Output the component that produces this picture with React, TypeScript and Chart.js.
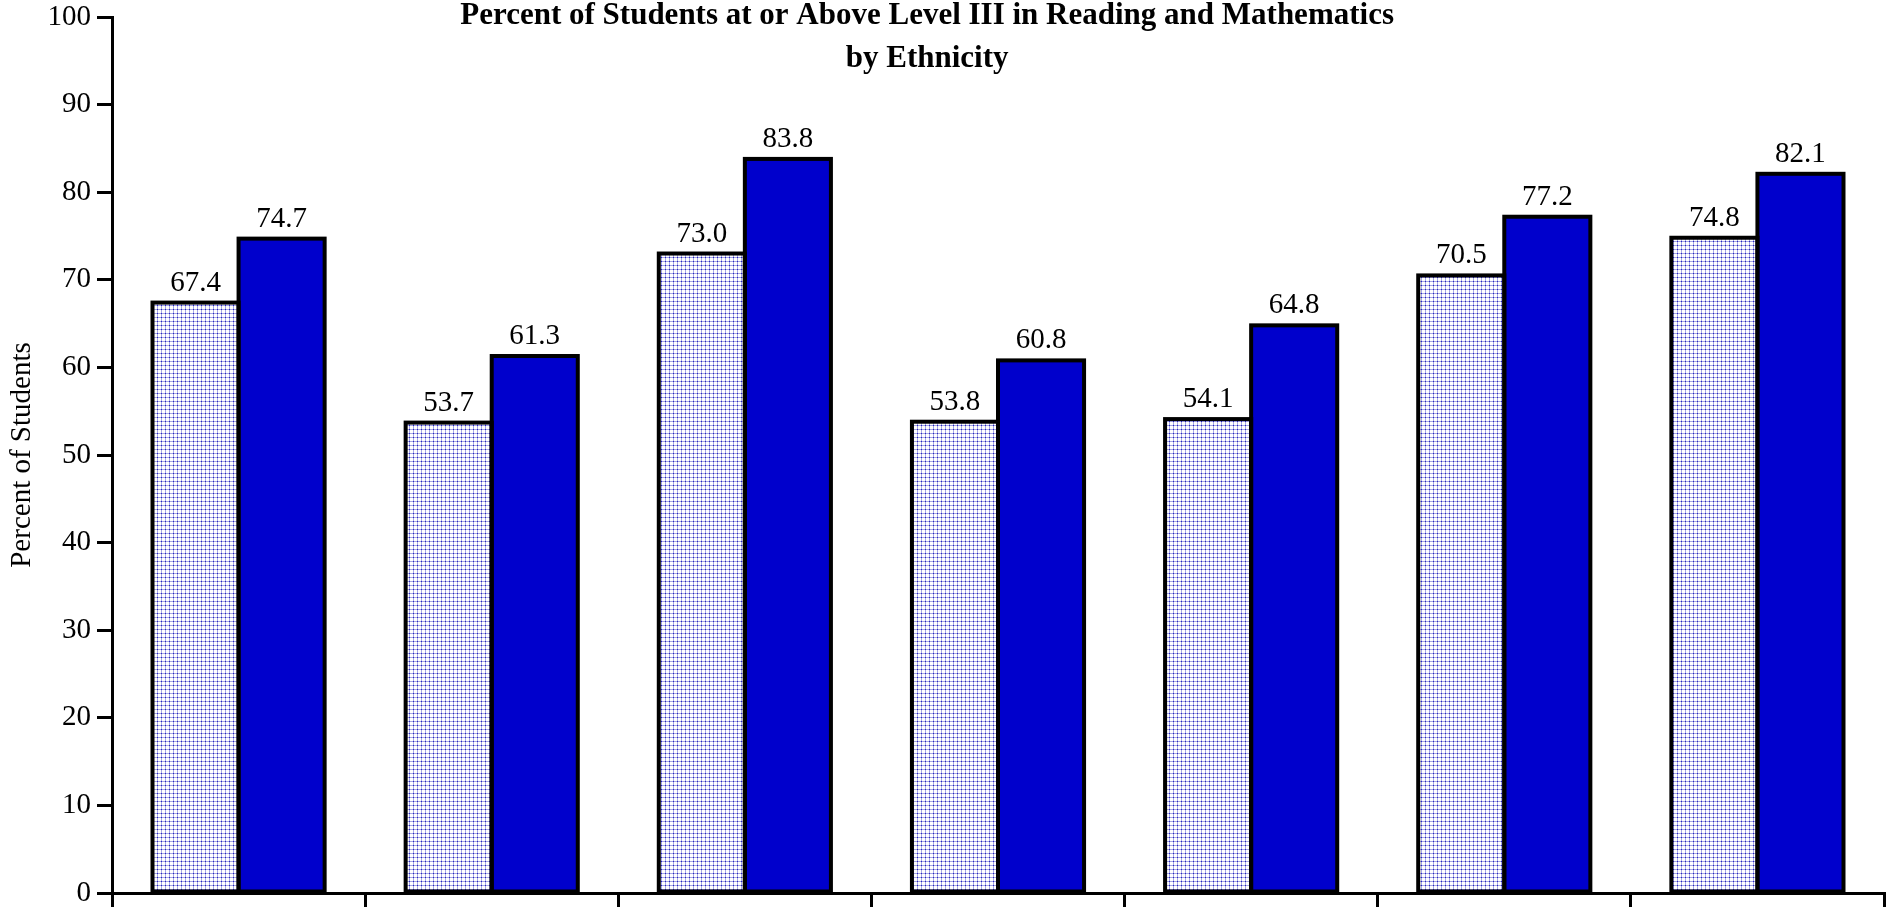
import { useEffect, useRef } from "react";
import { Chart, registerables } from "chart.js";

Chart.register(...registerables);

// Ethnic groups along the x axis (their labels sit below the visible area)
const categories = [
  "All Students",
  "African American",
  "Asian",
  "Hispanic",
  "American Indian",
  "White",
  "Multiracial",
];

// Percent of students at or above Level III
const readingValues = [67.4, 53.7, 73.0, 53.8, 54.1, 70.5, 74.8];
const mathValues = [74.7, 61.3, 83.8, 60.8, 64.8, 77.2, 82.1];

const yMin = 0;
const yMax = 100;
const yStep = 10;

const titleLines = [
  "Percent of Students at or Above Level III in Reading and Mathematics",
  "by Ethnicity",
];
const yAxisTitle = "Percent of Students";

const SERIF = "'Liberation Serif', 'Times New Roman', serif";
const SOLID_BLUE = "#0000cc";
const TEXT_SIZE = 29;
const HEADING_SIZE = 31;

// Small blue dot-grid tile used as the fill of the reading bars
function makeDotPattern(ctx: CanvasRenderingContext2D): CanvasPattern | string {
  const tile = document.createElement("canvas");
  tile.width = 4;
  tile.height = 4;
  const t = tile.getContext("2d");
  if (!t) return "#9999dd";
  t.fillStyle = "#ffffff";
  t.fillRect(0, 0, 4, 4);
  t.fillStyle = "#a4a4e4";
  t.fillRect(0, 1, 4, 1);
  t.fillRect(1, 0, 1, 4);
  t.fillStyle = "#2626bc";
  t.fillRect(1, 1, 1, 1);
  return ctx.createPattern(tile, "repeat") || "#9999dd";
}

// Black outlines centred on the bar edges, so neighbouring bars share one line
const barOutline = {
  id: "barOutline",
  afterDatasetsDraw(chart: any) {
    const ctx: CanvasRenderingContext2D = chart.ctx;
    ctx.save();
    ctx.strokeStyle = "#000000";
    ctx.lineWidth = 4;
    ctx.lineJoin = "miter";
    chart.data.datasets.forEach((_ds: any, i: number) => {
      chart.getDatasetMeta(i).data.forEach((bar: any) => {
        const { x, y, base, width } = bar.getProps(["x", "y", "base", "width"], true);
        ctx.strokeRect(x - width / 2, y, width, base - y);
      });
    });
    ctx.restore();
  },
};

// Value printed above every bar
const valueLabels = {
  id: "valueLabels",
  afterDatasetsDraw(chart: any) {
    const ctx: CanvasRenderingContext2D = chart.ctx;
    ctx.save();
    ctx.fillStyle = "#000000";
    ctx.font = `${TEXT_SIZE}px ${SERIF}`;
    ctx.textAlign = "center";
    ctx.textBaseline = "alphabetic";
    chart.data.datasets.forEach((ds: any, i: number) => {
      chart.getDatasetMeta(i).data.forEach((bar: any, j: number) => {
        const { x, y } = bar.getProps(["x", "y"], true);
        ctx.fillText(Number(ds.data[j]).toFixed(1), x, y - 12);
      });
    });
    ctx.restore();
  },
};

// Two-line bold heading drawn over the top of the plot area
const chartHeading = {
  id: "chartHeading",
  afterDraw(chart: any) {
    const ctx: CanvasRenderingContext2D = chart.ctx;
    const area = chart.chartArea;
    const cx = area.left + (area.right - area.left) * 0.46;
    ctx.save();
    ctx.fillStyle = "#000000";
    ctx.font = `bold ${HEADING_SIZE}px ${SERIF}`;
    ctx.textAlign = "center";
    ctx.textBaseline = "alphabetic";
    ctx.fillText(titleLines[0], cx, 24);
    ctx.fillText(titleLines[1], cx, 67);
    ctx.restore();
  },
};

export default function App() {
  const canvasRef = useRef<HTMLCanvasElement | null>(null);

  useEffect(() => {
    const canvas = canvasRef.current;
    if (!canvas) return;
    const ctx = canvas.getContext("2d");
    if (!ctx) return;
    const dots = makeDotPattern(ctx);

    const chart = new Chart(ctx, {
      type: "bar",
      data: {
        labels: categories,
        datasets: [
          {
            label: "Reading",
            data: readingValues,
            backgroundColor: dots as any,
            borderWidth: 0,
            categoryPercentage: 0.68,
            barPercentage: 1,
          },
          {
            label: "Mathematics",
            data: mathValues,
            backgroundColor: SOLID_BLUE,
            borderWidth: 0,
            categoryPercentage: 0.68,
            barPercentage: 1,
          },
        ],
      },
      options: {
        responsive: false,
        animation: false,
        events: [],
        layout: { padding: { top: 17, right: 7, bottom: 0, left: 0 } },
        plugins: {
          legend: { display: false },
          title: { display: false },
          tooltip: { enabled: false },
        },
        scales: {
          x: {
            type: "category",
            offset: true,
            ticks: { display: false },
            grid: {
              display: true,
              offset: true,
              drawOnChartArea: false,
              drawTicks: true,
              tickLength: 20,
              color: "#000000",
              lineWidth: 3,
            },
            border: { display: true, color: "#000000", width: 3 },
            afterFit(scale: any) {
              scale.height = 14;
              scale.paddingLeft = 0;
              scale.paddingRight = 0;
            },
          },
          y: {
            min: yMin,
            max: yMax,
            ticks: {
              stepSize: yStep,
              color: "#000000",
              padding: 6,
              font: { family: SERIF, size: TEXT_SIZE },
            },
            grid: {
              display: true,
              drawOnChartArea: false,
              drawTicks: true,
              tickLength: 15,
              color: "#000000",
              lineWidth: 3,
            },
            border: { display: true, color: "#000000", width: 3 },
            title: {
              display: true,
              text: yAxisTitle,
              color: "#000000",
              font: { family: SERIF, size: TEXT_SIZE },
              padding: { top: 5, bottom: 0 },
            },
            afterFit(scale: any) {
              scale.width = 112;
              scale.paddingTop = 0;
              scale.paddingBottom = 0;
            },
          },
        },
      },
      plugins: [barOutline, valueLabels, chartHeading],
    });

    return () => {
      chart.destroy();
    };
  }, []);

  return (
    <div
      style={{
        position: "fixed",
        left: 0,
        top: 0,
        width: 1891,
        height: 907,
        background: "#ffffff",
      }}
    >
      <canvas ref={canvasRef} width={1891} height={907} style={{ display: "block" }} />
    </div>
  );
}
